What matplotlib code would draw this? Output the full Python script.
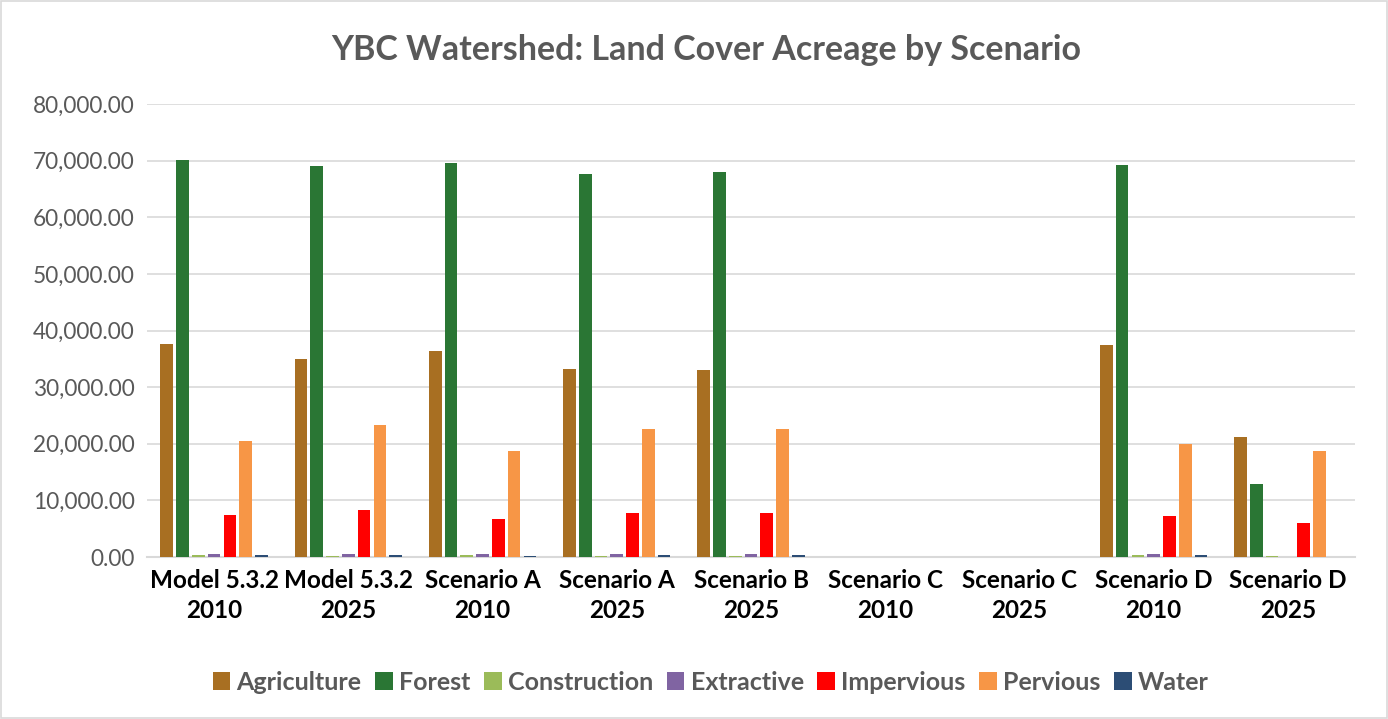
import numpy as np
import matplotlib.pyplot as plt
from matplotlib.ticker import FuncFormatter
from matplotlib.patches import Rectangle

plt.rcParams['font.family'] = ['Lato', 'DejaVu Sans']

scenarios = ['Model 5.3.2\n2010', 'Model 5.3.2\n2025', 'Scenario A\n2010', 'Scenario A\n2025',
             'Scenario B\n2025', 'Scenario C\n2010', 'Scenario C\n2025', 'Scenario D\n2010',
             'Scenario D\n2025']

land_cover = ['Agriculture', 'Forest', 'Construction', 'Extractive', 'Impervious', 'Pervious', 'Water']
colors = ['#A86F22', '#2A7634', '#9BBB59', '#8064A2', '#FF0000', '#F79646', '#2C4D75']

agriculture = [37630, 34980, 36400, 33220, 33040, 0, 0, 37460, 21200]
forest = [70140, 69080, 69600, 67670, 68020, 0, 0, 69260, 12900]
construction = [350, 250, 300, 250, 250, 0, 0, 300, 150]
extractive = [550, 550, 550, 550, 550, 0, 0, 550, 0]
impervious = [7420, 8300, 6710, 7770, 7770, 0, 0, 7240, 6060]
pervious = [20490, 23320, 18730, 22610, 22610, 0, 0, 19960, 18730]
water = [400, 400, 250, 300, 300, 0, 0, 400, 50]

series = [agriculture, forest, construction, extractive, impervious, pervious, water]

fig = plt.figure(figsize=(13.88, 7.19), dpi=100)
ax = fig.add_axes([147 / 1388, 1 - 557 / 719, 1208 / 1388, 453 / 719])

# clustered bars, seven land cover types per scenario
x = np.arange(len(scenarios))
step = 0.1175
width = 0.094
for i, (name, vals, c) in enumerate(zip(land_cover, series, colors)):
    ax.bar(x + (i - 3) * step, vals, width, color=c, label=name, zorder=3)

ax.set_xlim(-0.5, len(scenarios) - 0.5)
ax.set_ylim(0, 80000)
ax.set_yticks(np.arange(0, 80001, 10000))
ax.yaxis.set_major_formatter(FuncFormatter(lambda v, p: f'{v:,.2f}'))
ax.grid(axis='y', color='#D9D9D9', linewidth=1.2, zorder=0)
for s in ['top', 'right', 'left']:
    ax.spines[s].set_visible(False)
ax.spines['bottom'].set_color('#D9D9D9')
ax.spines['bottom'].set_linewidth(1.5)
ax.tick_params(axis='both', length=0)
ax.tick_params(axis='y', labelsize=16.3, labelcolor='#595959', pad=9)
ax.set_xticks(x)
ax.set_xticklabels(scenarios, fontsize=17.5, fontweight='bold', color='black', linespacing=1.35)
ax.tick_params(axis='x', pad=9)

fig.text(706 / 1388, 1 - 50 / 719, 'YBC Watershed: Land Cover Acreage by Scenario', ha='center', va='center',
         fontsize=24.5, fontweight='bold', color='#595959')

leg = fig.legend(loc='center', bbox_to_anchor=(0.512, 1 - 682 / 719), ncol=7, frameon=False,
                 prop={'size': 18, 'weight': 'bold'}, handlelength=0.7, handleheight=0.7,
                 handletextpad=0.25, columnspacing=0.55)
for t in leg.get_texts():
    t.set_color('#595959')

fig.patches.append(Rectangle((1 / 1388, 1 / 719), 1 - 2 / 1388, 1 - 2 / 719, transform=fig.transFigure,
                             fill=False, edgecolor='#D9D9D9', linewidth=1.2))

fig.savefig('out.png', dpi=100)
